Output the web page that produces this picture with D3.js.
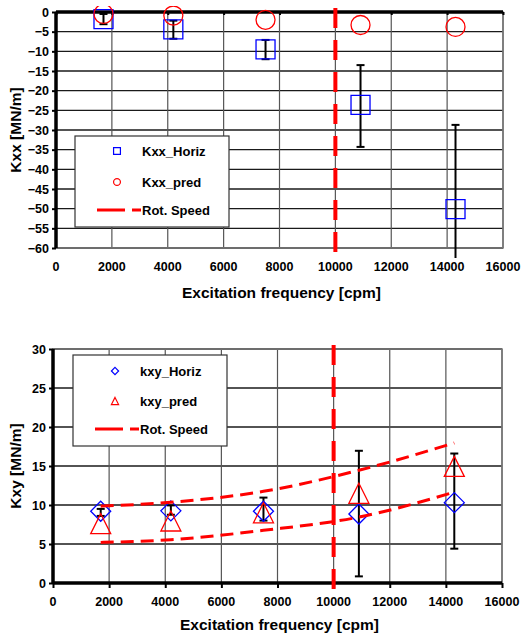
<!DOCTYPE html>
<html>
<head>
<meta charset="utf-8">
<script src="https://cdn.jsdelivr.net/npm/d3@7"></script>
<style>
  body { margin: 0; background: #fff; }
  text { font-family: "Liberation Sans", Arial, sans-serif; font-weight: bold; fill: #000; }
</style>
</head>
<body>
<svg width="522" height="637"></svg>
<script>
// frequencies of the measured points [cpm]
var freq = [1700, 4200, 7500, 10900, 14300];
var rotSpeed = 10000;

// top chart: Kxx
var kxxHoriz = [-1.8, -4.4, -9.5, -23.6, -50.1];
var kxxHigh  = [-0.5, -2.2, -7.1, -13.5, -28.7];
var kxxLow   = [-3.1, -6.8, -12.0, -34.3, -71.5];
var kxxPred  = [-0.5, -0.9, -2.0, -3.3, -3.8];

// bottom chart: Kxy
var kxyHoriz = [9.2, 9.25, 9.2, 8.85, 10.3];
var kxyHigh  = [9.5, 9.95, 10.95, 16.95, 16.6];
var kxyLow   = [8.6, 8.75, 8.0, 0.85, 4.4];
var kxyPred  = [7.6, 7.95, 9.0, 11.5, 14.95];
var kxyUpper = [9.85, 10.35, 11.75, 14.45, 17.95];
var kxyLower = [5.2, 5.55, 6.75, 8.45, 11.65];

var xTicks = [0, 2000, 4000, 6000, 8000, 10000, 12000, 14000, 16000];
var kxxTicks = d3.range(0, -61, -5);
var kxyTicks = d3.range(0, 31, 5);

var svg = d3.select("svg");
var blue = "#0000ff", red = "#ff0000";

function zip(xs, ys) { return xs.map(function(d, i) { return [d, ys[i]]; }); }

function drawChart(opt) {
  var g = svg.append("g");
  var x = d3.scaleLinear().domain([0, 16000]).range(opt.xr);
  var y = d3.scaleLinear().domain(opt.yd).range(opt.yr);
  var x0 = opt.xr[0], x1 = opt.xr[1], yTop = opt.yr[1], yBot = opt.yr[0];

  // grid
  g.selectAll(".hg").data(opt.yTicks).enter().append("line")
    .attr("x1", x0).attr("x2", x1)
    .attr("y1", function(d) { return y(d); }).attr("y2", function(d) { return y(d); })
    .attr("stroke", "#1a1a1a").attr("stroke-width", 1.3);
  g.selectAll(".vg").data(xTicks).enter().append("line")
    .attr("x1", function(d) { return x(d); }).attr("x2", function(d) { return x(d); })
    .attr("y1", yTop).attr("y2", yBot)
    .attr("stroke", "#555").attr("stroke-width", 1.2);
  // grey frame on the far sides
  g.append("rect").attr("x", x0).attr("y", yTop).attr("width", x1 - x0).attr("height", yBot - yTop)
    .attr("fill", "none").attr("stroke", "#777").attr("stroke-width", 1.5);

  // axes (thick black)
  var yAxisG = g.append("g").attr("transform", "translate(" + x0 + ",0)")
    .call(d3.axisLeft(y).tickValues(opt.yTicks).tickSize(4).tickPadding(3));
  var xAxisY = y(opt.xAxisAt);
  var xAxisG = g.append("g").attr("transform", "translate(0," + xAxisY + ")")
    .call(d3.axisBottom(x).tickValues(xTicks).tickSize(opt.xTickSize).tickFormat(""));
  [yAxisG, xAxisG].forEach(function(a) {
    a.select(".domain").attr("stroke", "#000").attr("stroke-width", 3.5);
    a.selectAll(".tick line").attr("stroke", "#000").attr("stroke-width", 2);
  });
  yAxisG.selectAll(".tick text").style("font-size", "12.5px").style("font-family", "Liberation Sans, Arial").style("font-weight", "bold");
  xAxisG.select(".domain").attr("d", "M" + x0 + ",0H" + x1);
  yAxisG.select(".domain").attr("d", "M0," + yBot + "V" + yTop);

  // x tick labels below the plot
  g.selectAll(".xl").data(xTicks).enter().append("text")
    .attr("x", function(d) { return x(d); }).attr("y", opt.xLabelY)
    .attr("text-anchor", "middle").style("font-size", "12.5px").text(function(d) { return d; });

  // titles
  g.append("text").attr("x", (x0 + x1) / 2 + 2).attr("y", opt.xTitleY)
    .attr("text-anchor", "middle").style("font-size", "15.5px").text("Excitation frequency [cpm]");
  g.append("text").attr("transform", "translate(21," + ((yTop + yBot) / 2) + ") rotate(-90)")
    .attr("text-anchor", "middle").style("font-size", "15.5px").text(opt.yTitle);

  // clip for marks
  var clipId = "clip" + opt.id;
  g.append("clipPath").attr("id", clipId).append("rect")
    .attr("x", x0 - 20).attr("y", yTop - 6).attr("width", x1 - x0 + 40).attr("height", yBot - yTop + 16);
  var m = g.append("g").attr("clip-path", "url(#" + clipId + ")");

  // error bars
  var eb = m.selectAll(".eb").data(freq).enter().append("g");
  eb.append("line")
    .attr("x1", function(d) { return x(d); }).attr("x2", function(d) { return x(d); })
    .attr("y1", function(d, i) { return y(opt.high[i]); }).attr("y2", function(d, i) { return y(opt.low[i]); })
    .attr("stroke", "#000").attr("stroke-width", 2);
  [opt.high, opt.low].forEach(function(arr) {
    eb.append("line")
      .attr("x1", function(d) { return x(d) - 4; }).attr("x2", function(d) { return x(d) + 4; })
      .attr("y1", function(d, i) { return y(arr[i]); }).attr("y2", function(d, i) { return y(arr[i]); })
      .attr("stroke", "#000").attr("stroke-width", 2);
  });

  // markers
  m.selectAll(".ms").data(zip(freq, opt.meas)).enter().append("path")
    .attr("transform", function(d) { return "translate(" + x(d[0]) + "," + y(d[1]) + ")"; })
    .attr("d", opt.measShape(1))
    .attr("fill", "none").attr("stroke", blue).attr("stroke-width", 1.3);
  m.selectAll(".pr").data(zip(freq, opt.pred)).enter().append("path")
    .attr("transform", function(d) { return "translate(" + x(d[0]) + "," + y(d[1]) + ")"; })
    .attr("d", opt.predShape(1))
    .attr("fill", "none").attr("stroke", red).attr("stroke-width", 1.3);

  // rotational speed
  m.append("line").attr("x1", x(rotSpeed)).attr("x2", x(rotSpeed))
    .attr("y1", yTop - 4).attr("y2", yBot + 10)
    .attr("stroke", red).attr("stroke-width", 4).attr("stroke-dasharray", "20,12");
  (opt.curves || []).forEach(function(c) {
    m.append("path").datum(zip(freq, c))
      .attr("d", d3.line().x(function(d) { return x(d[0]); }).y(function(d) { return y(d[1]); }).curve(d3.curveMonotoneX))
      .attr("fill", "none").attr("stroke", red).attr("stroke-width", 3).attr("stroke-dasharray", "13,7");
  });

  // legend
  var L = opt.legend;
  var lg = g.append("g");
  lg.append("rect").attr("x", L.x).attr("y", L.y).attr("width", L.w).attr("height", L.h)
    .attr("fill", "#fff").attr("stroke", "#333").attr("stroke-width", 1.2);
  var rows = [opt.names[0], opt.names[1], "Rot. Speed"];
  rows.forEach(function(name, i) {
    var ry = L.y + L.rows[i];
    lg.append("text").attr("x", L.x + 67).attr("y", ry + 4.5).style("font-size", "13px").text(name);
  });
  lg.append("path").attr("transform", "translate(" + (L.x + 42) + "," + (L.y + L.rows[0]) + ")")
    .attr("d", opt.measShape(0.36)).attr("fill", "none").attr("stroke", blue).attr("stroke-width", 1.2);
  lg.append("path").attr("transform", "translate(" + (L.x + 42) + "," + (L.y + L.rows[1]) + ")")
    .attr("d", opt.predShape(0.36)).attr("fill", "none").attr("stroke", red).attr("stroke-width", 1.2);
  lg.append("line").attr("x1", L.x + 22).attr("x2", L.x + 66)
    .attr("y1", L.y + L.rows[2]).attr("y2", L.y + L.rows[2])
    .attr("stroke", red).attr("stroke-width", 3).attr("stroke-dasharray", "28,7");
}

function square(s) { var h = 9.5 * s; return "M" + (-h) + "," + (-h) + "h" + (2 * h) + "v" + (2 * h) + "h" + (-2 * h) + "Z"; }
function circle(s) { var r = 9.5 * s; return "M" + r + ",0A" + r + "," + r + " 0 1,1 " + (-r) + ",0A" + r + "," + r + " 0 1,1 " + r + ",0Z"; }
function diamond(s) { var h = 10 * s; return "M0," + (-h) + "L" + h + ",0L0," + h + "L" + (-h) + ",0Z"; }
function triangle(s) { var h = 10 * s; return "M0," + (-h) + "L" + h + "," + h + "L" + (-h) + "," + h + "Z"; }

drawChart({
  id: 1, xr: [56, 503], yd: [-60, 0], yr: [248, 12], yTicks: kxxTicks,
  xAxisAt: 0, xTickSize: 3, xLabelY: 271, xTitleY: 298, yTitle: "Kxx [MN/m]",
  meas: kxxHoriz, high: kxxHigh, low: kxxLow, pred: kxxPred,
  measShape: square, predShape: circle, names: ["Kxx_Horiz", "Kxx_pred"],
  legend: { x: 75, y: 136, w: 154, h: 91, rows: [15, 46, 74] }
});

drawChart({
  id: 2, xr: [53, 502], yd: [0, 30], yr: [583, 349], yTicks: kxyTicks,
  xAxisAt: 0, xTickSize: 5, xLabelY: 606, xTitleY: 630, yTitle: "Kxy [MN/m]",
  meas: kxyHoriz, high: kxyHigh, low: kxyLow, pred: kxyPred,
  measShape: diamond, predShape: triangle, names: ["kxy_Horiz", "kxy_pred"],
  curves: [kxyUpper, kxyLower],
  legend: { x: 73, y: 355, w: 154, h: 91, rows: [16, 46, 74] }
});
</script>
</body>
</html>
